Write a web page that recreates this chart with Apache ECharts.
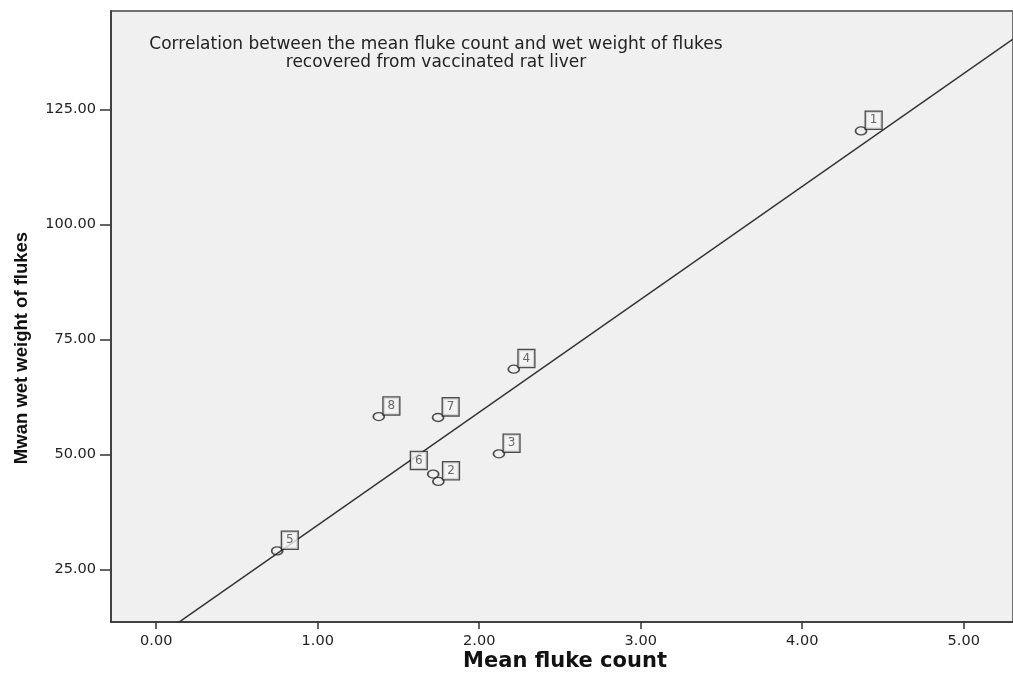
<!DOCTYPE html>
<html>
<head>
<meta charset="utf-8">
<script src="https://cdn.jsdelivr.net/npm/echarts@6/dist/echarts.min.js"></script>
<style>
html,body{margin:0;padding:0;background:#fff;}
#chart{width:1013px;height:677px;}
</style>
</head>
<body>
<div id="chart"></div>
<script>
// ---- data ----
const caseIds = ['1','2','3','4','5','6','7','8'];
const meanFlukeCount = [4.364, 1.747, 2.122, 2.214, 0.749, 1.715, 1.745, 1.378];
const meanWetWeight  = [120.3, 44.1, 50.1, 68.5, 29.0, 45.7, 58.0, 58.2];
const xTicks = [0, 1, 2, 3, 4, 5];
const yTicks = [25, 50, 75, 100, 125];
const titleLines = ['Correlation between the mean fluke count and wet weight of flukes',
                    'recovered from vaccinated rat liver'];
const xTitle = 'Mean fluke count';
const yTitle = 'Mwan wet weight of flukes';

// axis extents
const xMin = -0.28, xMax = 5.305;
const yMin = 13.54, yMax = 146.37;

// least-squares fit line from the data
const n = meanFlukeCount.length;
const mx = meanFlukeCount.reduce((a,b)=>a+b,0)/n;
const my = meanWetWeight.reduce((a,b)=>a+b,0)/n;
let sxy = 0, sxx = 0;
for (let i = 0; i < n; i++) {
  sxy += (meanFlukeCount[i]-mx)*(meanWetWeight[i]-my);
  sxx += (meanFlukeCount[i]-mx)*(meanFlukeCount[i]-mx);
}
const slope = sxy/sxx, intercept = my - slope*mx;
const fitData = [[xMin, intercept + slope*xMin], [xMax, intercept + slope*xMax]];

const labelDefault = [19, -6];
const labelLeft = { '6': [-8, -9] };

const points = caseIds.map((id, i) => ({
  value: [meanFlukeCount[i], meanWetWeight[i]],
  label: { position: labelLeft[id] || labelDefault }
}));

const chart = echarts.init(document.getElementById('chart'), null, {renderer: 'canvas'});
chart.setOption({
  animation: false,
  backgroundColor: '#ffffff',
  grid: {
    left: 111, top: 11, right: -10, bottom: 55,
    show: true, backgroundColor: '#f0f0f0', borderColor: '#707070', borderWidth: 2
  },
  xAxis: {
    type: 'value', min: xMin, max: xMax,
    axisLine: { show: true, onZero: false, lineStyle: { color: '#333', width: 1.5 } },
    axisTick: { show: true, length: 7, customValues: xTicks, lineStyle: { color: '#333', width: 1.5 } },
    axisLabel: { customValues: xTicks, margin: 12, color: '#222',
      fontFamily: 'DejaVu Sans', fontSize: 14.5,
      formatter: v => v.toFixed(2) },
    splitLine: { show: false }
  },
  yAxis: {
    type: 'value', min: yMin, max: yMax,
    axisLine: { show: true, onZero: false, lineStyle: { color: '#333', width: 1.5 } },
    axisTick: { show: true, length: 11, customValues: yTicks, lineStyle: { color: '#333', width: 1.5 } },
    axisLabel: { customValues: yTicks, margin: 15, color: '#222',
      fontFamily: 'DejaVu Sans', fontSize: 14.5,
      formatter: v => v.toFixed(2) },
    splitLine: { show: false }
  },
  graphic: [
    { type: 'text', x: 436, y: 54, z: 100,
      style: { text: titleLines.join('\n'), fill: '#222', font: '17px "DejaVu Sans"',
               textAlign: 'center', textVerticalAlign: 'middle', lineHeight: 18 } },
    { type: 'text', x: 565, y: 662, z: 100,
      style: { text: xTitle, fill: '#111', font: 'bold 21px "DejaVu Sans"',
               textAlign: 'center', textVerticalAlign: 'middle' } },
    { type: 'text', x: 22, y: 348, rotation: Math.PI/2, z: 100,
      style: { text: yTitle, fill: '#111', font: 'bold 18.5px "Liberation Sans", Arial, sans-serif',
               textAlign: 'center', textVerticalAlign: 'middle' } }
  ],
  series: [
    {
      type: 'line', data: fitData, symbol: 'none', clip: true, silent: true,
      lineStyle: { color: '#333', width: 1.5 }, z: 2
    },
    {
      type: 'scatter', data: points, symbol: 'circle', symbolSize: [11, 8], z: 3,
      itemStyle: { color: 'rgba(0,0,0,0)', borderColor: '#222', borderWidth: 1.5 },
      label: {
        show: true, formatter: p => caseIds[p.dataIndex],
        align: 'center', verticalAlign: 'middle',
        fontFamily: 'DejaVu Sans', fontSize: 12, color: '#444',
        borderColor: '#222', borderWidth: 1.3, padding: [3, 4, 2, 4],
        backgroundColor: '#f4f4f4'
      }
    }
  ]
});
</script>
</body>
</html>
